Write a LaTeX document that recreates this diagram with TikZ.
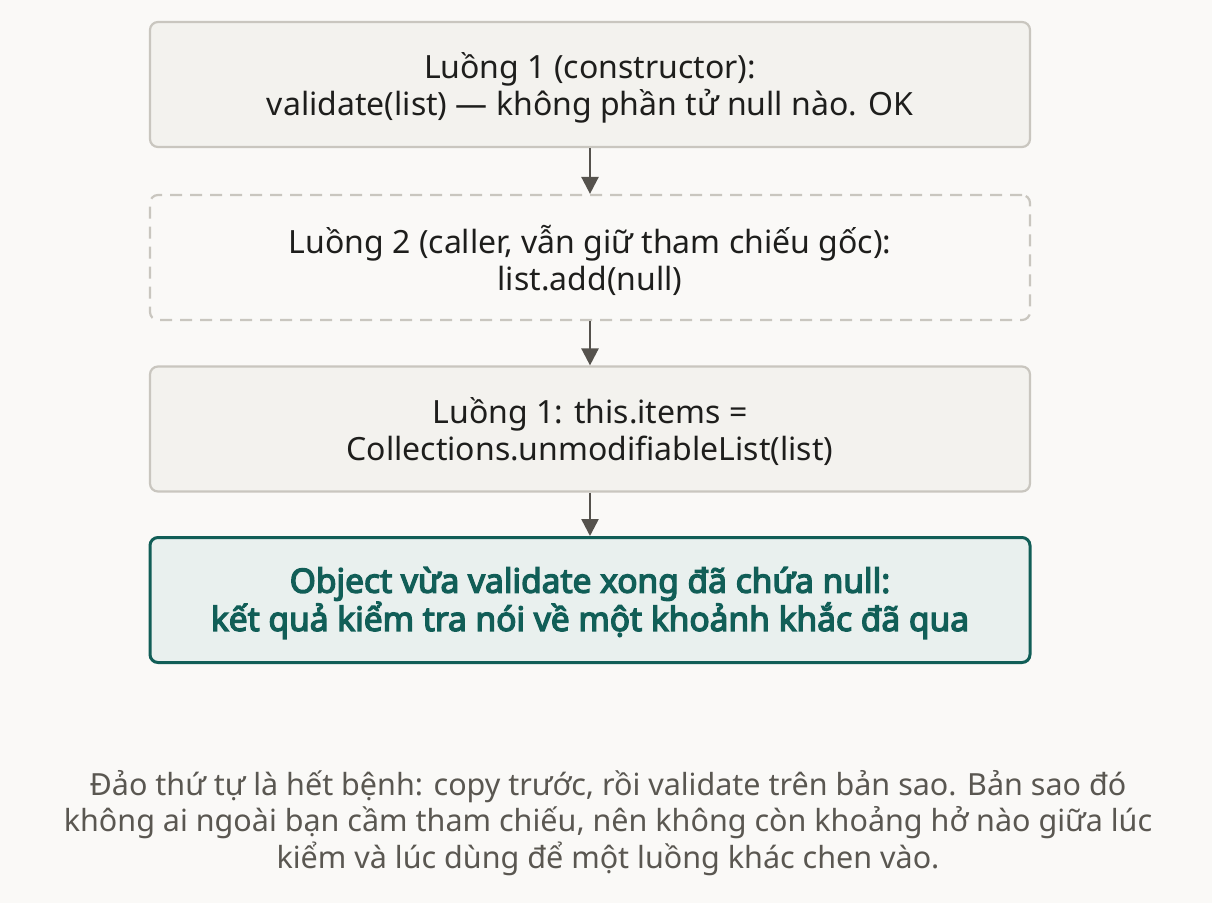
\documentclass[tikz,border=0pt]{standalone}
\usepackage{fontspec}
\setmainfont{Noto Sans}
\newfontfamily\boldnoto{Noto Sans}[FakeBold=4]
\usetikzlibrary{arrows.meta}
\definecolor{bg}{HTML}{FAF9F7}
\definecolor{boxfill}{HTML}{F3F2EE}
\definecolor{boxline}{HTML}{C9C6BF}
\definecolor{txt}{HTML}{1E1E1C}
\definecolor{arr}{HTML}{55524D}
\definecolor{grn}{HTML}{115E57}
\definecolor{grnfill}{HTML}{E9F0EE}
\definecolor{note}{HTML}{5A5751}
\begin{document}
\begin{tikzpicture}[x=1pt,y=1pt,
  stepbox/.style={draw=boxline, line width=2.2pt, fill=boxfill, rounded corners=8pt,
    minimum width=880pt, minimum height=125pt, inner sep=0pt},
  dashbox/.style={stepbox, fill=bg, dash pattern=on 12pt off 8pt},
  endbox/.style={stepbox, draw=grn, line width=3pt, fill=grnfill},
  steptext/.style={align=center, text=txt, font=\fontsize{32}{37}\selectfont, inner sep=0pt},
  endtext/.style={steptext, text=grn, font=\boldnoto\fontsize{33.5}{37}\selectfont},
  conn/.style={draw=arr, line width=2.5pt, -{Triangle[length=17pt,width=17pt]}}]
\fill[bg] (0,0) rectangle (1212,-903);
\useasboundingbox (0,0) rectangle (1212,-903);
\node[stepbox] (b1) at (590,-84.5) {};
\node[dashbox] (b2) at (590,-257.5) {};
\node[stepbox] (b3) at (590,-429) {};
\node[endbox] (b4) at (590,-600) {};
\node[steptext] (t1) at ([yshift=-3pt]b1.center) {Luồng 1 (constructor):\\validate(list) — không phần tử null nào. OK};
\node[steptext] (t2) at ([yshift=-3pt]b2.center) {Luồng 2 (caller, vẫn giữ tham chiếu gốc):\\list.add(null)};
\node[steptext] (t3) at ([yshift=-3pt]b3.center) {Luồng 1: this.items =\\Collections.unmodifiableList(list)};
\node[endtext] (t4) at ([yshift=-3pt]b4.center) {Object vừa validate xong đã chứa null:\\kết quả kiểm tra nói về một khoảnh khắc đã qua};
\draw[conn] (b1) -- (b2);
\draw[conn] (b2) -- (b3);
\draw[conn] (b3) -- (b4);
\node[align=center, text=note, font=\fontsize{30.5}{36.5}\selectfont] (note) at (608,-823)
  {Đảo thứ tự là hết bệnh: copy trước, rồi validate trên bản sao. Bản sao đó\\không ai ngoài bạn cầm tham chiếu, nên không còn khoảng hở nào giữa lúc\\kiểm và lúc dùng để một luồng khác chen vào.};
\end{tikzpicture}
\end{document}
